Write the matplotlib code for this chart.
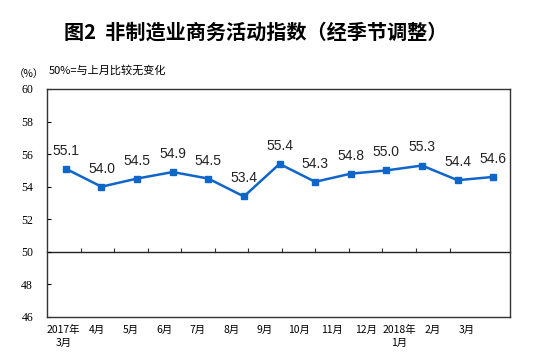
import numpy as np
import matplotlib
matplotlib.use("Agg")
import matplotlib.pyplot as plt

plt.rcParams['font.family'] = ['Noto Sans CJK SC', 'DejaVu Sans']

months = ['2017年\n3月', '4月', '5月', '6月', '7月', '8月', '9月',
          '10月', '11月', '12月', '2018年\n1月', '2月', '3月']
values = [55.1, 54.0, 54.5, 54.9, 54.5, 53.4, 55.4,
          54.3, 54.8, 55.0, 55.3, 54.4, 54.6]
yticks = [46, 48, 50, 52, 54, 56, 58, 60]

fig = plt.figure(figsize=(5.54, 3.61), dpi=100)
ax = fig.add_axes([0.0848, 0.1219, 0.8357, 0.6316])
n = len(months)
x = np.arange(n)

# category labels (spacing as in the original export)
ax.set_xlim(-0.5, 13.3)
ax.set_ylim(46, 60)
ax.set_xticks(x)
ax.set_xticklabels(months, fontsize=7.5, linespacing=1.3)
ax.tick_params(axis='x', length=0, pad=6)
ax.set_yticks(yticks)
ax.set_yticklabels([str(v) for v in yticks], family='Liberation Serif', fontsize=8.5)
ax.tick_params(axis='y', direction='in', length=3, width=0.8, pad=10)
for s in ax.spines.values():
    s.set_color('#333333')
    s.set_linewidth(1.0)

# 50 line with category boundary ticks
sec = ax.secondary_xaxis((50 - 46) / 14)
sec.set_xticks(x[:-1] + 0.5)
sec.set_xticklabels([])
sec.tick_params(direction='in', length=3, width=0.8, color='#333333')
sec.spines['bottom'].set_color('#222222')
sec.spines['bottom'].set_linewidth(1.0)

# the line series on its own category scale
ax2 = ax.twiny()
ax2.set_xlim(-0.53, 12.47)
ax2.set_ylim(46, 60)
ax2.set_xticks([])
for s in ax2.spines.values():
    s.set_visible(False)
ax2.plot(x, values, color='#0F66C8', linewidth=1.8, marker='s', markersize=4.5)
for xi, v in zip(x, values):
    ax2.annotate(f'{v:.1f}', (xi, v), xytext=(0, 13), textcoords='offset points',
                 ha='center', va='center', fontsize=10, family='Liberation Sans',
                 color='#222222')

fig.text(0.462, 0.91, '图2  非制造业商务活动指数（经季节调整）', ha='center', va='center',
         fontsize=14.5, fontweight='bold')
fig.text(0.025, 0.795, '（%）', ha='left', va='center', fontsize=7.5)
fig.text(0.088, 0.806, '50%=与上月比较无变化', ha='left', va='center', fontsize=8)

fig.savefig('out.png', dpi=100)
